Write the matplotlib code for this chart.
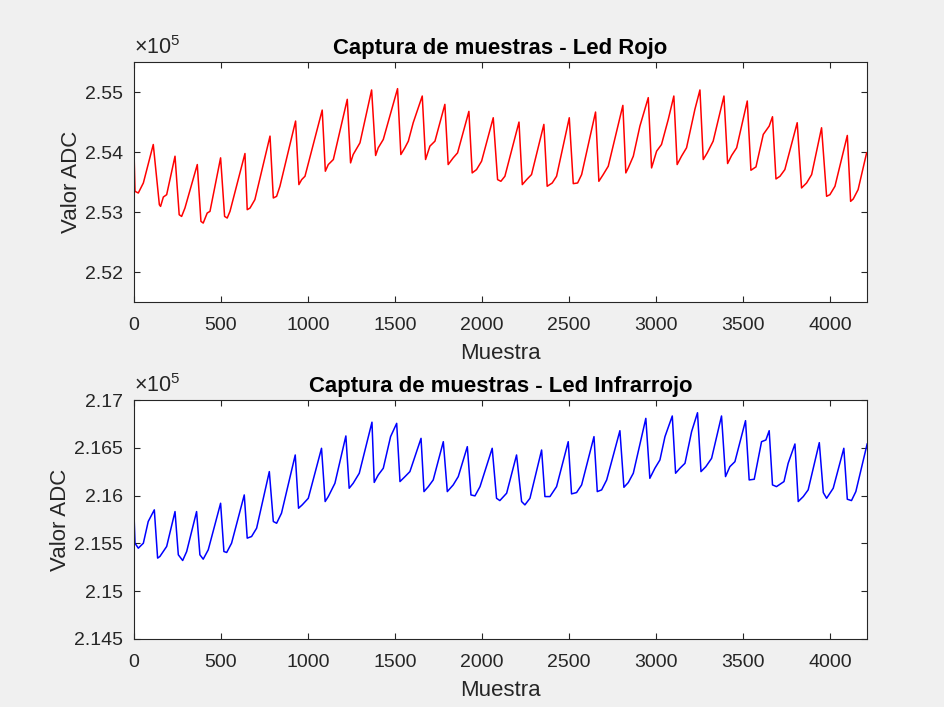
import matplotlib
matplotlib.use("Agg")
import matplotlib.pyplot as plt
from matplotlib.ticker import FuncFormatter

# ------------------------------------------------------
# Datos (muestra, valor ADC)
# ------------------------------------------------------
rojo_muestra = [0, 6, 25, 54, 111, 146, 153, 169, 188, 236, 260, 274, 293, 364,
                385, 398, 421, 437, 498, 521, 536, 552, 638, 651, 667, 695, 782,
                801, 820, 839, 929, 948, 964, 983, 1082, 1100, 1117, 1146, 1226,
                1245, 1260, 1299, 1366, 1389, 1404, 1433, 1471, 1515, 1534, 1557,
                1577, 1605, 1657, 1676, 1701, 1730, 1787, 1806, 1835, 1860, 1925,
                1944, 1969, 1998, 2065, 2090, 2109, 2132, 2213, 2232, 2257, 2285,
                2356, 2375, 2404, 2429, 2502, 2525, 2550, 2573, 2653, 2672, 2697,
                2726, 2810, 2827, 2841, 2870, 2908, 2956, 2975, 3004, 3032, 3071,
                3103, 3122, 3147, 3176, 3224, 3253, 3272, 3295, 3329, 3391, 3412,
                3435, 3464, 3525, 3546, 3575, 3617, 3651, 3670, 3690, 3713, 3741,
                3812, 3837, 3866, 3895, 3952, 3981, 4000, 4029, 4100, 4119, 4134,
                4162, 4211]
rojo_valor = [254040, 253345, 253317, 253484, 254125, 253122, 253094, 253250,
              253289, 253930, 252955, 252927, 253066, 253791, 252844, 252816,
              252983, 253011, 253903, 252927, 252900, 253011, 253975, 253039,
              253066, 253206, 254265, 253234, 253262, 253429, 254516, 253457,
              253540, 253596, 254699, 253680, 253791, 253875, 254878, 253819,
              253958, 254153, 255034, 253942, 254070, 254209, 254599, 255056,
              253958, 254070, 254181, 254488, 254933, 253875, 254098, 254181,
              254794, 253791, 253903, 253986, 254677, 253652, 253707, 253847,
              254571, 253540, 253512, 253596, 254499, 253457, 253540, 253624,
              254460, 253429, 253484, 253596, 254571, 253473, 253484, 253624,
              254666, 253512, 253624, 253763, 254777, 253652, 253735, 253930,
              254432, 254906, 253735, 254014, 254125, 254544, 254933, 253791,
              253930, 254070, 254711, 255034, 253875, 253986, 254181, 254933,
              253808, 253942, 254070, 254850, 253696, 253752, 254293, 254432,
              254588, 253551, 253596, 253707, 254488, 253401, 253484, 253624,
              254404, 253262, 253289, 253429, 254276, 253178, 253217, 253373,
              253986]

ir_muestra = [0, 6, 25, 54, 82, 117, 136, 149, 188, 236, 255, 280, 303, 360, 379,
              398, 427, 498, 517, 533, 561, 634, 651, 676, 705, 778, 801, 820,
              848, 927, 946, 967, 1002, 1078, 1099, 1117, 1155, 1218, 1237, 1260,
              1295, 1368, 1381, 1404, 1433, 1475, 1510, 1529, 1558, 1586, 1650,
              1667, 1692, 1720, 1778, 1801, 1835, 1864, 1916, 1937, 1960, 1989,
              2059, 2084, 2103, 2142, 2199, 2228, 2247, 2276, 2343, 2362, 2391,
              2429, 2496, 2515, 2544, 2573, 2644, 2663, 2688, 2717, 2793, 2816,
              2841, 2870, 2942, 2965, 2994, 3023, 3052, 3094, 3113, 3138, 3167,
              3205, 3239, 3259, 3287, 3320, 3377, 3400, 3425, 3454, 3515, 3536,
              3565, 3607, 3632, 3651, 3670, 3693, 3736, 3760, 3799, 3818, 3847,
              3875, 3939, 3962, 3981, 4019, 4080, 4100, 4124, 4149, 4214]
ir_valor = [215816, 215502, 215450, 215502, 215729, 215851, 215346, 215363,
            215468, 215833, 215381, 215321, 215415, 215833, 215381, 215335,
            215433, 215920, 215415, 215405, 215502, 216007, 215555, 215572,
            215659, 216251, 215729, 215711, 215816, 216425, 215868, 215903,
            215972, 216495, 215938, 215990, 216129, 216624, 216077, 216129,
            216234, 216768, 216138, 216216, 216286, 216617, 216756, 216147,
            216199, 216251, 216599, 216042, 216094, 216164, 216564, 216042,
            216112, 216199, 216512, 216007, 215997, 216094, 216495, 215972,
            215948, 216025, 216425, 215938, 215903, 215972, 216477, 215990,
            215990, 216094, 216564, 216018, 216032, 216112, 216617, 216042,
            216060, 216164, 216679, 216087, 216136, 216234, 216808, 216181,
            216286, 216373, 216617, 216833, 216234, 216286, 216338, 216669,
            216867, 216251, 216303, 216390, 216833, 216199, 216303, 216355,
            216784, 216164, 216171, 216564, 216582, 216679, 216112, 216094,
            216147, 216338, 216540, 215938, 215990, 216060, 216554, 216032,
            215972, 216077, 216495, 215962, 215948, 216042, 216540]

x_ticks = [0, 500, 1000, 1500, 2000, 2500, 3000, 3500, 4000]
rojo_yticks = [252000, 253000, 254000, 255000]
ir_yticks = [214500, 215000, 215500, 216000, 216500, 217000]

# ------------------------------------------------------
# Estilo tipo MATLAB
# ------------------------------------------------------
plt.rcParams["font.family"] = ["Liberation Sans", "DejaVu Sans"]
plt.rcParams["mathtext.fontset"] = "custom"
plt.rcParams["mathtext.rm"] = "Liberation Sans"
gris = "#262626"

fig = plt.figure(figsize=(9.44, 7.07), dpi=100, facecolor="#F0F0F0")
ax1 = fig.add_axes([0.1419, 0.5728, 0.7765, 0.3395])
ax2 = fig.add_axes([0.1419, 0.0962, 0.7765, 0.3380])

paneles = [
    (ax1, rojo_muestra, rojo_valor, "r", "Captura de muestras - Led Rojo",
     (251500, 255500), rojo_yticks),
    (ax2, ir_muestra, ir_valor, "b", "Captura de muestras - Led Infrarrojo",
     (214500, 217000), ir_yticks),
]

for ax, xs, ys, color, titulo, ylim, yticks in paneles:
    ax.plot(xs, ys, color=color, linewidth=1.1)
    ax.set_xlim(0, 4213)
    ax.set_ylim(*ylim)
    ax.set_xticks(x_ticks)
    ax.set_yticks(yticks)
    ax.yaxis.set_major_formatter(FuncFormatter(lambda v, p: "{:g}".format(round(v / 1e5, 4))))
    ax.tick_params(direction="in", length=4, width=0.8, colors=gris,
                   labelsize=14, top=True, right=True)
    ax.tick_params(axis="x", pad=11)
    ax.tick_params(axis="y", pad=8)
    for s in ax.spines.values():
        s.set_color(gris)
        s.set_linewidth(0.8)
    ax.set_xlabel("Muestra", fontsize=16, color=gris, labelpad=6.5)
    ax.set_ylabel("Valor ADC", fontsize=16, color=gris, labelpad=2)
    ax.set_title(titulo, fontsize=15.9, fontweight="bold", color="black", pad=6)
    ax.text(0, 1.012, r"$\mathregular{\times10^{5}}$", transform=ax.transAxes,
            ha="left", va="bottom", fontsize=15.5, color=gris)

fig.savefig("out.png", dpi=100, facecolor=fig.get_facecolor())
